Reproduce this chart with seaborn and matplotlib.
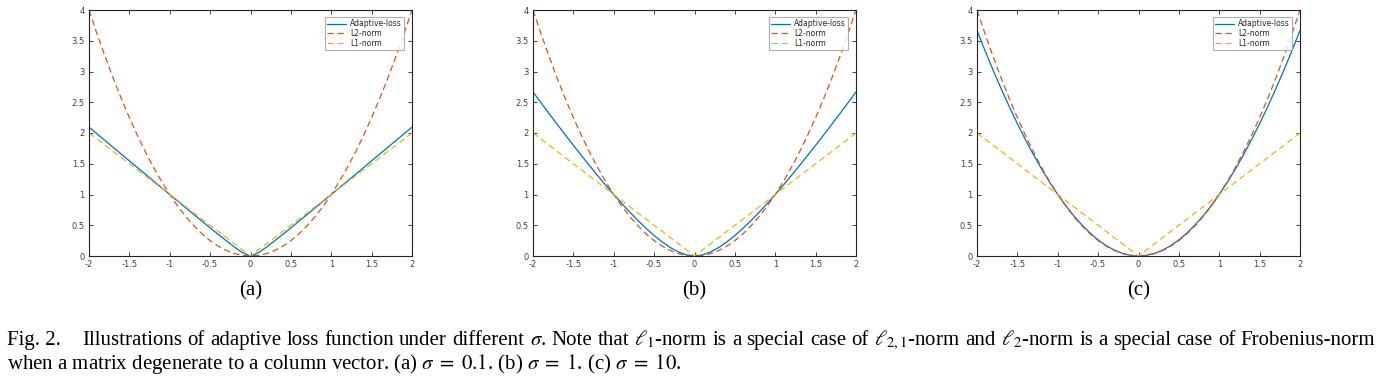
import numpy as np
import pandas as pd
import matplotlib
matplotlib.use("Agg")
import matplotlib.pyplot as plt
import seaborn as sns

sns.set_theme(style="white")
plt.rcParams['font.family'] = ['DejaVu Sans']
plt.rcParams['mathtext.fontset'] = 'stix'

# sample positions on the x axis
x = [-2.0, -1.9, -1.8, -1.7, -1.6, -1.5, -1.4, -1.3, -1.2, -1.1, -1.0,
     -0.9, -0.8, -0.7, -0.6, -0.5, -0.4, -0.3, -0.2, -0.1, 0.0,
     0.1, 0.2, 0.3, 0.4, 0.5, 0.6, 0.7, 0.8, 0.9, 1.0,
     1.1, 1.2, 1.3, 1.4, 1.5, 1.6, 1.7, 1.8, 1.9, 2.0]

# adaptive loss, sigma = 0.1
adaptive_a = [2.095, 1.986, 1.876, 1.766, 1.656, 1.547, 1.437, 1.328, 1.218, 1.109, 1.0,
              0.891, 0.782, 0.674, 0.566, 0.458, 0.352, 0.248, 0.147, 0.055, 0.0,
              0.055, 0.147, 0.248, 0.352, 0.458, 0.566, 0.674, 0.782, 0.891, 1.0,
              1.109, 1.218, 1.328, 1.437, 1.547, 1.656, 1.766, 1.876, 1.986, 2.095]
# adaptive loss, sigma = 1
adaptive_b = [2.667, 2.490, 2.314, 2.141, 1.969, 1.800, 1.633, 1.470, 1.309, 1.152, 1.0,
              0.853, 0.711, 0.576, 0.450, 0.333, 0.229, 0.138, 0.067, 0.018, 0.0,
              0.018, 0.067, 0.138, 0.229, 0.333, 0.450, 0.576, 0.711, 0.853, 1.0,
              1.152, 1.309, 1.470, 1.633, 1.800, 1.969, 2.141, 2.314, 2.490, 2.667]
# adaptive loss, sigma = 10
adaptive_c = [3.667, 3.337, 3.020, 2.717, 2.428, 2.152, 1.891, 1.645, 1.414, 1.199, 1.0,
              0.817, 0.652, 0.504, 0.374, 0.262, 0.169, 0.096, 0.043, 0.011, 0.0,
              0.011, 0.043, 0.096, 0.169, 0.262, 0.374, 0.504, 0.652, 0.817, 1.0,
              1.199, 1.414, 1.645, 1.891, 2.152, 2.428, 2.717, 3.020, 3.337, 3.667]
l2_norm = [4.0, 3.61, 3.24, 2.89, 2.56, 2.25, 1.96, 1.69, 1.44, 1.21, 1.0,
           0.81, 0.64, 0.49, 0.36, 0.25, 0.16, 0.09, 0.04, 0.01, 0.0,
           0.01, 0.04, 0.09, 0.16, 0.25, 0.36, 0.49, 0.64, 0.81, 1.0,
           1.21, 1.44, 1.69, 1.96, 2.25, 2.56, 2.89, 3.24, 3.61, 4.0]
l1_x = [-2.0, 0.0, 2.0]
l1_norm = [2.0, 0.0, 2.0]

panels = ["(a)", "(b)", "(c)"]
adaptive = [adaptive_a, adaptive_b, adaptive_c]
xticks = [-2, -1.5, -1, -0.5, 0, 0.5, 1, 1.5, 2]
xtick_labels = ["-2", "-1.5", "-1", "-0.5", "0", "0.5", "1", "1.5", "2"]
yticks = [0, 0.5, 1, 1.5, 2, 2.5, 3, 3.5, 4]
ytick_labels = ["0", "0.5", "1", "1.5", "2", "2.5", "3", "3.5", "4"]

blue = "#0072BD"
orange = "#D95319"
yellow = "#EDB120"

W, H = 1378, 387
fig = plt.figure(figsize=(W / 100, H / 100), dpi=100)
lefts = [89, 533, 977]
aw, top, bot = 323, 10, 256

for i in range(3):
    ax = fig.add_axes([lefts[i] / W, 1 - bot / H, aw / W, (bot - top) / H])
    sns.lineplot(x=x, y=adaptive[i], ax=ax, color=blue, lw=0.9, label="Adaptive-loss")
    sns.lineplot(x=x, y=l2_norm, ax=ax, color=orange, lw=0.9, label="L2-norm",
                 linestyle=(0, (5, 3)))
    sns.lineplot(x=l1_x, y=l1_norm, ax=ax, color=yellow, lw=0.9, label="L1-norm",
                 linestyle=(0, (5, 3)))
    ax.set_xlim(-2, 2)
    ax.set_ylim(0, 4)
    ax.set_xticks(xticks)
    ax.set_xticklabels(xtick_labels)
    ax.set_yticks(yticks)
    ax.set_yticklabels(ytick_labels)
    ax.tick_params(direction="in", length=3, width=0.6, labelsize=6,
                   labelcolor="#404040", color="#222222", top=True, right=True,
                   bottom=True, left=True, pad=3)
    for s in ax.spines.values():
        s.set_visible(True)
        s.set_color("#222222")
        s.set_linewidth(0.8)
    leg = ax.legend(loc="upper right", bbox_to_anchor=(1 - 8 / aw, 1 - 7 / (bot - top)),
                    borderaxespad=0, fontsize=5.5, handlelength=2.5, frameon=True,
                    fancybox=False, borderpad=0.3, labelspacing=0.1, handletextpad=0.5)
    leg.get_frame().set_edgecolor("#999999")
    leg.get_frame().set_linewidth(0.8)
    fig.text((lefts[i] + aw / 2) / W, 1 - 295 / H, panels[i], ha="center", va="baseline",
             fontsize=15, family="Liberation Serif", color="black")

# caption, first line justified to the right edge
cap_size = 15
line1_head = "Fig. 2."
line1_words = [r"Illustrations", "of", "adaptive", "loss", "function", "under", "different",
               r"$\sigma$.", "Note", "that", r"$\ell_1$-norm", "is", "a", "special", "case",
               "of", r"$\ell_{2,1}$-norm", "and", r"$\ell_2$-norm", "is", "a", "special",
               "case", "of", "Frobenius-norm"]
line2 = (r"when a matrix degenerate to a column vector. (a) $\sigma\;=\;0.1$. "
         r"(b) $\sigma\;=\;1$. (c) $\sigma\;=\;10$.")
y1 = 1 - 345 / H
y2 = 1 - 369 / H
fig.text(7 / W, y1, line1_head, ha="left", va="baseline", fontsize=cap_size,
         family="Liberation Serif", color="black")
texts = [fig.text(0, y1, w, ha="left", va="baseline", fontsize=cap_size,
                  family="Liberation Serif", color="black") for w in line1_words]
fig.canvas.draw()
r = fig.canvas.get_renderer()
widths = [t.get_window_extent(r).width for t in texts]
x0, x1 = 82, 1375
gap = (x1 - x0 - sum(widths)) / (len(texts) - 1)
pos = x0
for t, w in zip(texts, widths):
    t.set_x(pos / W)
    pos += w + gap
fig.text(7 / W, y2, line2, ha="left", va="baseline", fontsize=cap_size,
         family="Liberation Serif", color="black")

fig.savefig("out.png", dpi=100)
